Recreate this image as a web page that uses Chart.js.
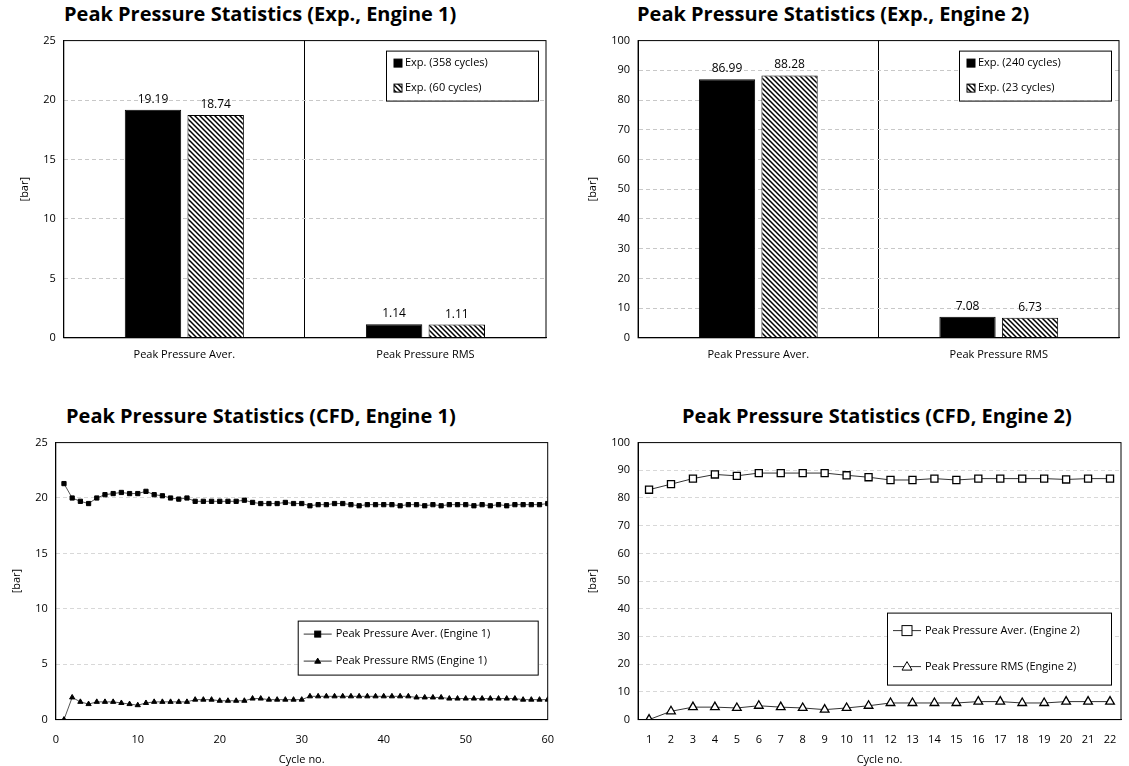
<!DOCTYPE html>
<html lang="en">
<head>
<meta charset="UTF-8">
<title>Peak Pressure Statistics</title>
<script src="https://cdn.jsdelivr.net/npm/chart.js"></script>
<style>
    body { margin: 0; background: #fff; font-family: "Open Sans", sans-serif; }
    .wrap { position: absolute; }
    .title { position: absolute; font-weight: bold; font-size: 20px; color: #000; white-space: nowrap; }
</style>
</head>
<body>
<div class="title" style="left:64px; top:0px;">Peak Pressure Statistics (Exp., Engine 1)</div>
<div class="title" style="left:637px; top:0px;">Peak Pressure Statistics (Exp., Engine 2)</div>
<div class="title" style="left:66px; top:402px;">Peak Pressure Statistics (CFD, Engine 1)</div>
<div class="title" style="left:682px; top:402px;">Peak Pressure Statistics (CFD, Engine 2)</div>
<div class="wrap" style="left:0; top:26px; width:560px; height:345px;"><canvas id="exp1"></canvas></div>
<div class="wrap" style="left:570px; top:26px; width:559px; height:345px;"><canvas id="exp2"></canvas></div>
<div class="wrap" style="left:0; top:428px; width:560px; height:338px;"><canvas id="cfd1"></canvas></div>
<div class="wrap" style="left:570px; top:428px; width:559px; height:338px;"><canvas id="cfd2"></canvas></div>
<script>
    // Experimental statistics
    const expCategories = ['Peak Pressure Aver.', 'Peak Pressure RMS'];
    const exp1Full = [19.19, 1.14];
    const exp1Short = [18.74, 1.11];
    const exp1Labels = ['Exp. (358 cycles)', 'Exp. (60 cycles)'];
    const exp2Full = [86.99, 7.08];
    const exp2Short = [88.28, 6.73];
    const exp2Labels = ['Exp. (240 cycles)', 'Exp. (23 cycles)'];

    // CFD, engine 1 (60 cycles)
    const cfd1Aver = [21.3, 20.0, 19.7, 19.5, 20.0, 20.3, 20.4, 20.5, 20.4, 20.4, 20.6, 20.3, 20.2, 20.0, 19.9, 20.0, 19.7, 19.7, 19.7, 19.7, 19.7, 19.7, 19.8, 19.6, 19.5, 19.5, 19.5, 19.6, 19.5, 19.5,
        19.3, 19.4, 19.4, 19.5, 19.5, 19.4, 19.3, 19.4, 19.4, 19.4, 19.4, 19.3, 19.4, 19.4, 19.3, 19.4, 19.3, 19.4, 19.4, 19.4, 19.3, 19.4, 19.3, 19.4, 19.3, 19.4, 19.4, 19.4, 19.4, 19.5];
    const cfd1Rms = [0.0, 2.0, 1.6, 1.4, 1.6, 1.6, 1.6, 1.5, 1.4, 1.3, 1.5, 1.6, 1.6, 1.6, 1.6, 1.6, 1.8, 1.8, 1.8, 1.7, 1.7, 1.7, 1.7, 1.9, 1.9, 1.8, 1.8, 1.8, 1.8, 1.8,
        2.1, 2.1, 2.1, 2.1, 2.1, 2.1, 2.1, 2.1, 2.1, 2.1, 2.1, 2.1, 2.1, 2.0, 2.0, 2.0, 2.0, 1.9, 1.9, 1.9, 1.9, 1.9, 1.9, 1.9, 1.9, 1.9, 1.8, 1.8, 1.8, 1.8];

    // CFD, engine 2 (22 cycles)
    const cfd2Cycles = ['1','2','3','4','5','6','7','8','9','10','11','12','13','14','15','16','17','18','19','20','21','22'];
    const cfd2Aver = [83, 85, 87, 88.5, 88, 89, 89, 89, 89, 88.2, 87.5, 86.5, 86.5, 87, 86.5, 87, 87, 87, 87, 86.7, 87, 87];
    const cfd2Rms = [0, 3, 4.5, 4.5, 4.2, 5, 4.5, 4.2, 3.6, 4.2, 5, 6, 6, 6, 6, 6.5, 6.5, 6, 6, 6.5, 6.5, 6.5];

    const tickFont = { family: 'Open Sans', size: 11 };

    function hatch() {
        const c = document.createElement('canvas');
        c.width = 5; c.height = 5;
        const g = c.getContext('2d');
        g.fillStyle = '#fff'; g.fillRect(0, 0, 5, 5);
        g.strokeStyle = '#000'; g.lineWidth = 1.5;
        g.beginPath();
        g.moveTo(0, 0); g.lineTo(5, 5);
        g.moveTo(-2.5, 2.5); g.lineTo(2.5, 7.5);
        g.moveTo(2.5, -2.5); g.lineTo(7.5, 2.5);
        g.stroke();
        return g.createPattern(c, 'repeat');
    }
    const hatchFill = hatch();

    // value labels over bars
    const valueLabels = {
        id: 'valueLabels',
        afterDatasetsDraw(chart) {
            const ctx = chart.ctx;
            ctx.save();
            ctx.font = '12px "Open Sans"';
            ctx.fillStyle = '#000';
            ctx.textAlign = 'center';
            chart.data.datasets.forEach((ds, i) => {
                chart.getDatasetMeta(i).data.forEach((bar, j) => {
                    ctx.fillText(ds.data[j].toFixed(2), bar.x, bar.y - 7);
                });
            });
            ctx.restore();
        }
    };

    // black frame around plot area
    const frame = {
        id: 'frame',
        afterDatasetsDraw(chart) {
            const a = chart.chartArea, ctx = chart.ctx;
            ctx.save();
            ctx.strokeStyle = '#000'; ctx.lineWidth = 1;
            ctx.strokeRect(a.left, a.top, a.right - a.left, a.bottom - a.top);
            ctx.restore();
        }
    };

    // legend box inside the plot area
    const boxLegend = {
        id: 'boxLegend',
        afterDraw(chart, args, opts) {
            const ctx = chart.ctx;
            const a = chart.chartArea;
            const x = a.right - opts.right - opts.width;
            const y = a.top + opts.top;
            ctx.save();
            ctx.fillStyle = '#fff';
            ctx.fillRect(x, y, opts.width, opts.height);
            ctx.strokeStyle = '#000'; ctx.lineWidth = 1;
            ctx.strokeRect(x + 0.5, y + 0.5, opts.width, opts.height);
            ctx.font = '11px "Open Sans"';
            ctx.textBaseline = 'middle';
            const step = opts.height / chart.data.datasets.length;
            chart.data.datasets.forEach((ds, i) => {
                const cy = y + step * (i + 0.5);
                if (opts.kind === 'bar') {
                    ctx.fillStyle = ds.backgroundColor;
                    ctx.fillRect(x + 8, cy - 4, 8, 8);
                    ctx.strokeStyle = '#000';
                    ctx.strokeRect(x + 8, cy - 4, 8, 8);
                    ctx.fillStyle = '#000';
                    ctx.fillText(ds.label, x + 19, cy);
                } else {
                    ctx.strokeStyle = '#333'; ctx.lineWidth = 1;
                    ctx.beginPath(); ctx.moveTo(x + 6, cy); ctx.lineTo(x + 34, cy); ctx.stroke();
                    ctx.fillStyle = ds.pointBackgroundColor;
                    ctx.strokeStyle = '#000';
                    const s = ds.pointRadius;
                    if (ds.pointStyle === 'triangle') {
                        ctx.beginPath();
                        ctx.moveTo(x + 20, cy - s); ctx.lineTo(x + 20 + s, cy + s * 0.7); ctx.lineTo(x + 20 - s, cy + s * 0.7);
                        ctx.closePath(); ctx.fill(); ctx.stroke();
                    } else {
                        ctx.fillRect(x + 20 - s, cy - s, 2 * s, 2 * s);
                        ctx.strokeRect(x + 20 - s, cy - s, 2 * s, 2 * s);
                    }
                    ctx.fillStyle = '#000';
                    ctx.fillText(ds.label, x + 38, cy);
                }
            });
            ctx.restore();
        }
    };

    function expChart(id, full, short, labels, max, step, pad, box) {
        new Chart(document.getElementById(id), {
            type: 'bar',
            data: {
                labels: expCategories,
                datasets: [
                    { label: labels[0], data: full, backgroundColor: '#000', borderColor: '#000', borderWidth: 1 },
                    { label: labels[1], data: short, backgroundColor: hatchFill, borderColor: '#000', borderWidth: 1 }
                ]
            },
            options: {
                responsive: true, maintainAspectRatio: false, animation: false,
                categoryPercentage: 0.52, barPercentage: 0.9,
                layout: { padding: pad },
                plugins: { legend: { display: false }, tooltip: { enabled: false }, boxLegend: box },
                scales: {
                    x: {
                        offset: true,
                        grid: { offset: true, color: (c) => c.index === 1 ? '#000' : 'rgba(0,0,0,0)', drawTicks: false },
                        border: { color: '#000' },
                        ticks: { color: '#000', font: tickFont, padding: 10 }
                    },
                    y: {
                        min: 0, max: max,
                        ticks: { stepSize: step, color: '#000', font: tickFont, padding: 8 },
                        grid: { color: (c) => c.tick.value === 0 || c.tick.value === max ? 'rgba(0,0,0,0)' : '#c8c8c8', drawTicks: false },
                        border: { color: '#000', dash: [4, 3] },
                        title: { display: true, text: '[bar]', color: '#000', font: tickFont, padding: 4 }
                    }
                }
            },
            plugins: [valueLabels, boxLegend, frame]
        });
    }

    expChart('exp1', exp1Full, exp1Short, exp1Labels, 25, 5,
        { left: 14, right: 14, top: 8, bottom: 0 }, { kind: 'bar', width: 152, height: 50, top: 10, right: 8 });
    expChart('exp2', exp2Full, exp2Short, exp2Labels, 100, 10,
        { left: 12, right: 10, top: 8, bottom: 0 }, { kind: 'bar', width: 152, height: 50, top: 10, right: 8 });

    const cfd1Cycles = cfd1Aver.map((v, i) => i + 1);

    new Chart(document.getElementById('cfd1'), {
        type: 'line',
        data: {
            datasets: [
                { label: 'Peak Pressure Aver. (Engine 1)', data: cfd1Aver.map((v, i) => ({ x: cfd1Cycles[i], y: v })),
                  borderColor: '#555', borderWidth: 1, pointStyle: 'rect', pointRadius: 3, pointBackgroundColor: '#000', pointBorderColor: '#000' },
                { label: 'Peak Pressure RMS (Engine 1)', data: cfd1Rms.map((v, i) => ({ x: cfd1Cycles[i], y: v })),
                  borderColor: '#555', borderWidth: 1, pointStyle: 'triangle', pointRadius: 3, pointBackgroundColor: '#000', pointBorderColor: '#000' }
            ]
        },
        options: {
            responsive: true, maintainAspectRatio: false, animation: false,
            layout: { padding: { left: 6, right: 12, top: 8, bottom: 0 } },
            plugins: { legend: { display: false }, tooltip: { enabled: false },
                boxLegend: { kind: 'line', width: 240, height: 54, top: 178, right: 10 } },
            scales: {
                x: { type: 'linear', min: 0, max: 60,
                     ticks: { stepSize: 10, color: '#000', font: tickFont, padding: 6 },
                     grid: { display: false }, border: { color: '#000' },
                     title: { display: true, text: 'Cycle no.', color: '#000', font: tickFont, padding: 0 } },
                y: { min: 0, max: 25,
                     ticks: { stepSize: 5, color: '#000', font: tickFont, padding: 8 },
                     grid: { color: (c) => c.tick.value === 0 || c.tick.value === 25 ? 'rgba(0,0,0,0)' : '#d8d8d8', drawTicks: false },
                     border: { color: '#000', dash: [4, 3] },
                     title: { display: true, text: '[bar]', color: '#000', font: tickFont, padding: 4 } }
            }
        },
        plugins: [boxLegend, frame]
    });

    new Chart(document.getElementById('cfd2'), {
        type: 'line',
        data: {
            labels: cfd2Cycles,
            datasets: [
                { label: 'Peak Pressure Aver. (Engine 2)', data: cfd2Aver,
                  borderColor: '#333', borderWidth: 1, pointStyle: 'rect', pointRadius: 5, pointBackgroundColor: '#fff', pointBorderColor: '#000', pointBorderWidth: 1.3 },
                { label: 'Peak Pressure RMS (Engine 2)', data: cfd2Rms,
                  borderColor: '#333', borderWidth: 1, pointStyle: 'triangle', pointRadius: 5, pointBackgroundColor: '#fff', pointBorderColor: '#000', pointBorderWidth: 1.3 }
            ]
        },
        options: {
            responsive: true, maintainAspectRatio: false, animation: false,
            layout: { padding: { left: 12, right: 8, top: 8, bottom: 0 } },
            plugins: { legend: { display: false }, tooltip: { enabled: false },
                boxLegend: { kind: 'line', width: 224, height: 72, top: 170, right: 10 } },
            scales: {
                x: { offset: true,
                     ticks: { color: '#000', font: tickFont, padding: 6, autoSkip: false, maxRotation: 0 },
                     grid: { display: false }, border: { color: '#000' },
                     title: { display: true, text: 'Cycle no.', color: '#000', font: tickFont, padding: 0 } },
                y: { min: 0, max: 100,
                     ticks: { stepSize: 10, color: '#000', font: tickFont, padding: 8 },
                     grid: { color: (c) => c.tick.value === 0 || c.tick.value === 100 ? 'rgba(0,0,0,0)' : '#d8d8d8', drawTicks: false },
                     border: { color: '#000', dash: [4, 3] },
                     title: { display: true, text: '[bar]', color: '#000', font: tickFont, padding: 4 } }
            }
        },
        plugins: [boxLegend, frame]
    });
</script>
</body>
</html>
